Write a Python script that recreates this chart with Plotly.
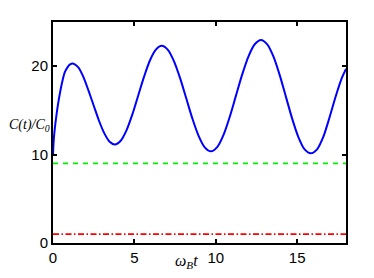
import plotly.graph_objects as go

# Blue curve
t_vals = [0.0, 0.03, 0.08, 0.18, 0.3, 0.45, 0.6, 0.72, 0.9, 1.05, 1.22,
          1.5425, 1.865, 2.1875, 2.51, 2.8325, 3.155, 3.4775, 3.8,
          4.16, 4.52, 4.88, 5.24, 5.60, 5.96, 6.32, 6.68,
          7.0575, 7.435, 7.8125, 8.19, 8.5675, 8.945, 9.3225, 9.7,
          10.085, 10.47, 10.855, 11.24, 11.625, 12.01, 12.395, 12.78,
          13.1625, 13.545, 13.9275, 14.31, 14.6925, 15.075, 15.4575, 15.84,
          16.2225, 16.605, 16.9875, 17.37, 17.7525, 18.0]
c_vals = [9.9, 11.2, 12.4, 14.0, 15.6, 17.2, 18.5, 19.3, 19.9, 20.2, 20.3,
          19.9, 18.8, 17.2, 15.5, 13.8, 12.4, 11.45, 11.14,
          11.57, 12.77, 14.58, 16.72, 18.85, 20.67, 21.87, 22.3,
          21.85, 20.55, 18.62, 16.34, 14.05, 12.12, 10.82, 10.37,
          10.85, 12.21, 14.26, 16.67, 19.07, 21.12, 22.48, 22.96,
          22.47, 21.08, 18.99, 16.53, 14.07, 11.98, 10.59, 10.15,
          10.6, 12.0, 14.2, 16.6, 18.7, 19.7]

# Reference horizontal levels
x_range = [0, 18]
green_level = [9.0, 9.0]
red_level = [1.0, 1.0]

x_ticks = [0, 5, 10, 15]
y_ticks = [0, 10, 20]

fig = go.Figure()
fig.add_trace(go.Scatter(x=x_range, y=green_level, mode="lines",
                         line=dict(color="#00ee00", width=1.8, dash="5px,5px")))
fig.add_trace(go.Scatter(x=x_range, y=red_level, mode="lines",
                         line=dict(color="#ff0000", width=1.8, dash="6px,2.5px,1.5px,2.5px")))
fig.add_trace(go.Scatter(x=t_vals, y=c_vals, mode="lines",
                         line=dict(color="#0000ff", width=2, shape="spline", smoothing=0.8)))

axis_common = dict(showline=True, linecolor="black", linewidth=2, mirror="ticks",
                   ticks="inside", ticklen=4, tickwidth=1.5, tickcolor="black",
                   showgrid=False, zeroline=False,
                   tickfont=dict(family="Liberation Sans, Arial", size=15, color="black"))

# page body adds an 8px offset, so the figure is sized/margined to compensate
fig.update_layout(
    width=366, height=270,
    margin=dict(l=45, r=28, t=13, b=31),
    paper_bgcolor="white", plot_bgcolor="white",
    showlegend=False,
    xaxis=dict(range=[0, 18], tickvals=x_ticks, **axis_common),
    yaxis=dict(range=[0, 25], tickvals=y_ticks, **axis_common),
    annotations=[
        dict(text="<i>C(t)/C<sub>0</sub></i>", xref="paper", yref="paper",
             x=0, y=0.53, xanchor="right", yanchor="middle", xshift=-1, showarrow=False,
             font=dict(family="Liberation Serif, Times New Roman", size=14, color="black")),
        dict(text="<i>ω<sub>B</sub>t</i>", xref="paper", yref="paper",
             x=0.455, y=0, xanchor="center", yanchor="top", yshift=-7, showarrow=False,
             font=dict(family="Liberation Serif, Times New Roman", size=16, color="black")),
    ],
)

fig.write_html("out.html")
